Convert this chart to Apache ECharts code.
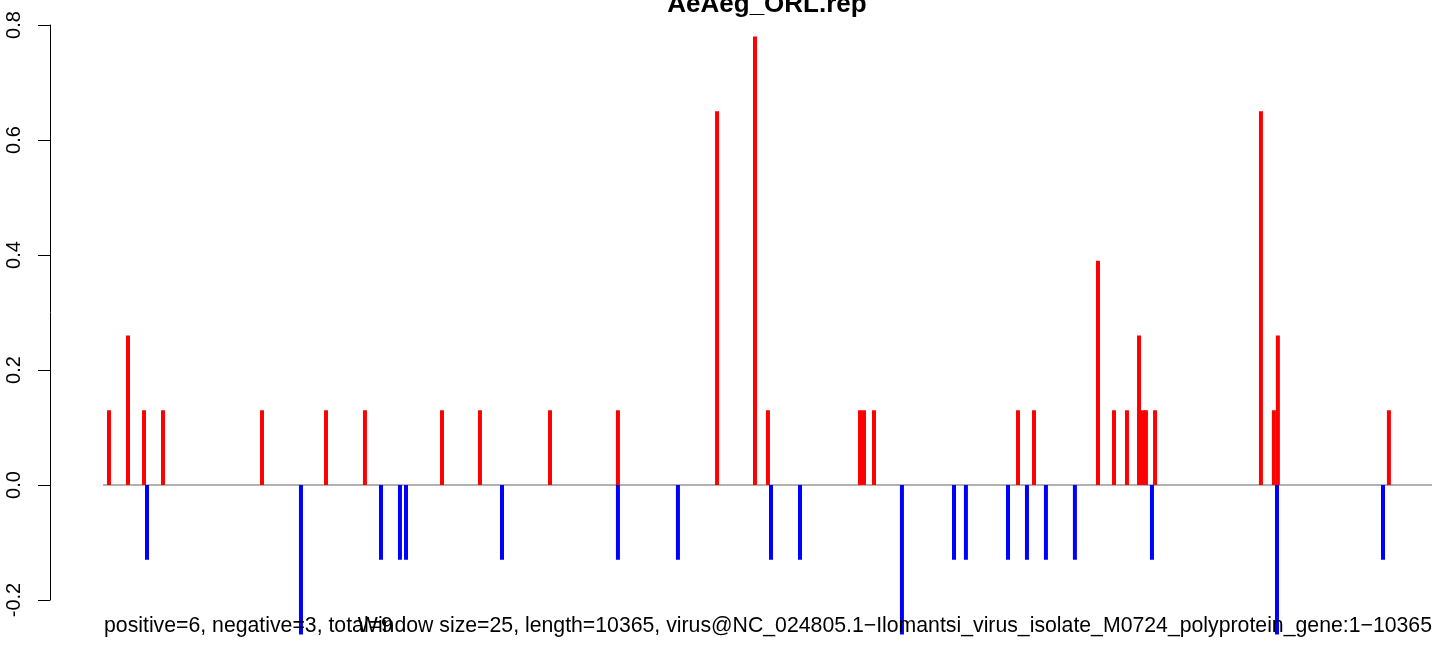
<!DOCTYPE html>
<html>
<head>
<meta charset="utf-8">
<script src="https://cdn.jsdelivr.net/npm/echarts@6/dist/echarts.min.js"></script>
<style>
html,body{margin:0;padding:0;background:#fff;}
#chart{width:1444px;height:646px;}
</style>
</head>
<body>
<div id="chart"></div>
<script>
// Data (genome positions in bp, score values)
const titleText = "AeAeg_ORL.rep";
const genomeLength = 10365;
const posPositions = [47,195,320,468,1240,1739,2043,2644,2940,3486,4016,4789,5085,5186,5904,5935,6013,7136,7261,7760,7885,7986,8080,8111,8134,8205,9031,9132,9163,10029];
const posValues    = [0.13,0.26,0.13,0.13,0.13,0.13,0.13,0.13,0.13,0.13,0.13,0.65,0.78,0.13,0.13,0.13,0.13,0.13,0.13,0.39,0.13,0.13,0.26,0.13,0.13,0.13,0.65,0.13,0.26,0.13];
const negPositions = [343,1544,2168,2316,2363,3112,4016,4484,5210,5436,6231,6637,6730,7058,7206,7354,7580,8181,9156,9983];
const negValues    = [-0.13,-0.26,-0.13,-0.13,-0.13,-0.13,-0.13,-0.13,-0.13,-0.13,-0.26,-0.13,-0.13,-0.13,-0.13,-0.13,-0.13,-0.13,-0.26,-0.13];
const yTicks = [-0.2,0,0.2,0.4,0.6,0.8];
const leftSub = "positive=6, negative=3, total=9";
const rightSub = "Window size=25, length=10365, virus@NC_024805.1\u2212Ilomantsi_virus_isolate_M0724_polyprotein_gene:1\u221210365";

const chart = echarts.init(document.getElementById('chart'), null, {renderer:'canvas'});
const font = "Liberation Sans, Arial, Helvetica, sans-serif";
const option = {
  animation:false,
  backgroundColor:'#fff',
  grid:{left:103,right:12,top:25,bottom:46},
  xAxis:{type:'value',min:0,max:genomeLength,show:false},
  yAxis:{type:'value',min:yTicks[0],max:yTicks[yTicks.length-1],interval:0.2,offset:53,
    splitLine:{show:false},
    axisLine:{show:true,onZero:false,lineStyle:{color:'#000',width:1}},
    axisTick:{show:true,length:12,lineStyle:{color:'#000',width:1}},
    axisLabel:{rotate:90,margin:26,fontSize:20,color:'#000',fontFamily:font,
      formatter:v=>{const r=Math.round(v*10)/10;return (r<0?'-':'')+Math.abs(r).toFixed(1);}}
  },
  graphic:[
    {type:'text',style:{text:titleText,x:767,y:18,textAlign:'center',textVerticalAlign:'bottom',font:'bold 26px '+font,fill:'#000'},z:10},
    {type:'text',style:{text:leftSub,x:104,y:626,textAlign:'left',textVerticalAlign:'middle',font:'21.25px '+font,fill:'#000'},z:10},
    {type:'text',style:{text:rightSub,x:1432,y:626,textAlign:'right',textVerticalAlign:'middle',font:'21.25px '+font,fill:'#000'},z:10}
  ],
  series:[
    {type:'line',data:[[0,0],[genomeLength,0]],symbol:'none',lineStyle:{color:'#999',width:1.5},z:1,silent:true},
    {type:'bar',data:posPositions.map((p,i)=>[p,posValues[i]]),barWidth:4,barGap:'-100%',itemStyle:{color:'#ff0000'},clip:false,z:2},
    {type:'bar',data:negPositions.map((p,i)=>[p,negValues[i]]),barWidth:4,barGap:'-100%',itemStyle:{color:'#0000ff'},clip:false,z:2}
  ]
};
chart.setOption(option);
</script>
</body>
</html>
